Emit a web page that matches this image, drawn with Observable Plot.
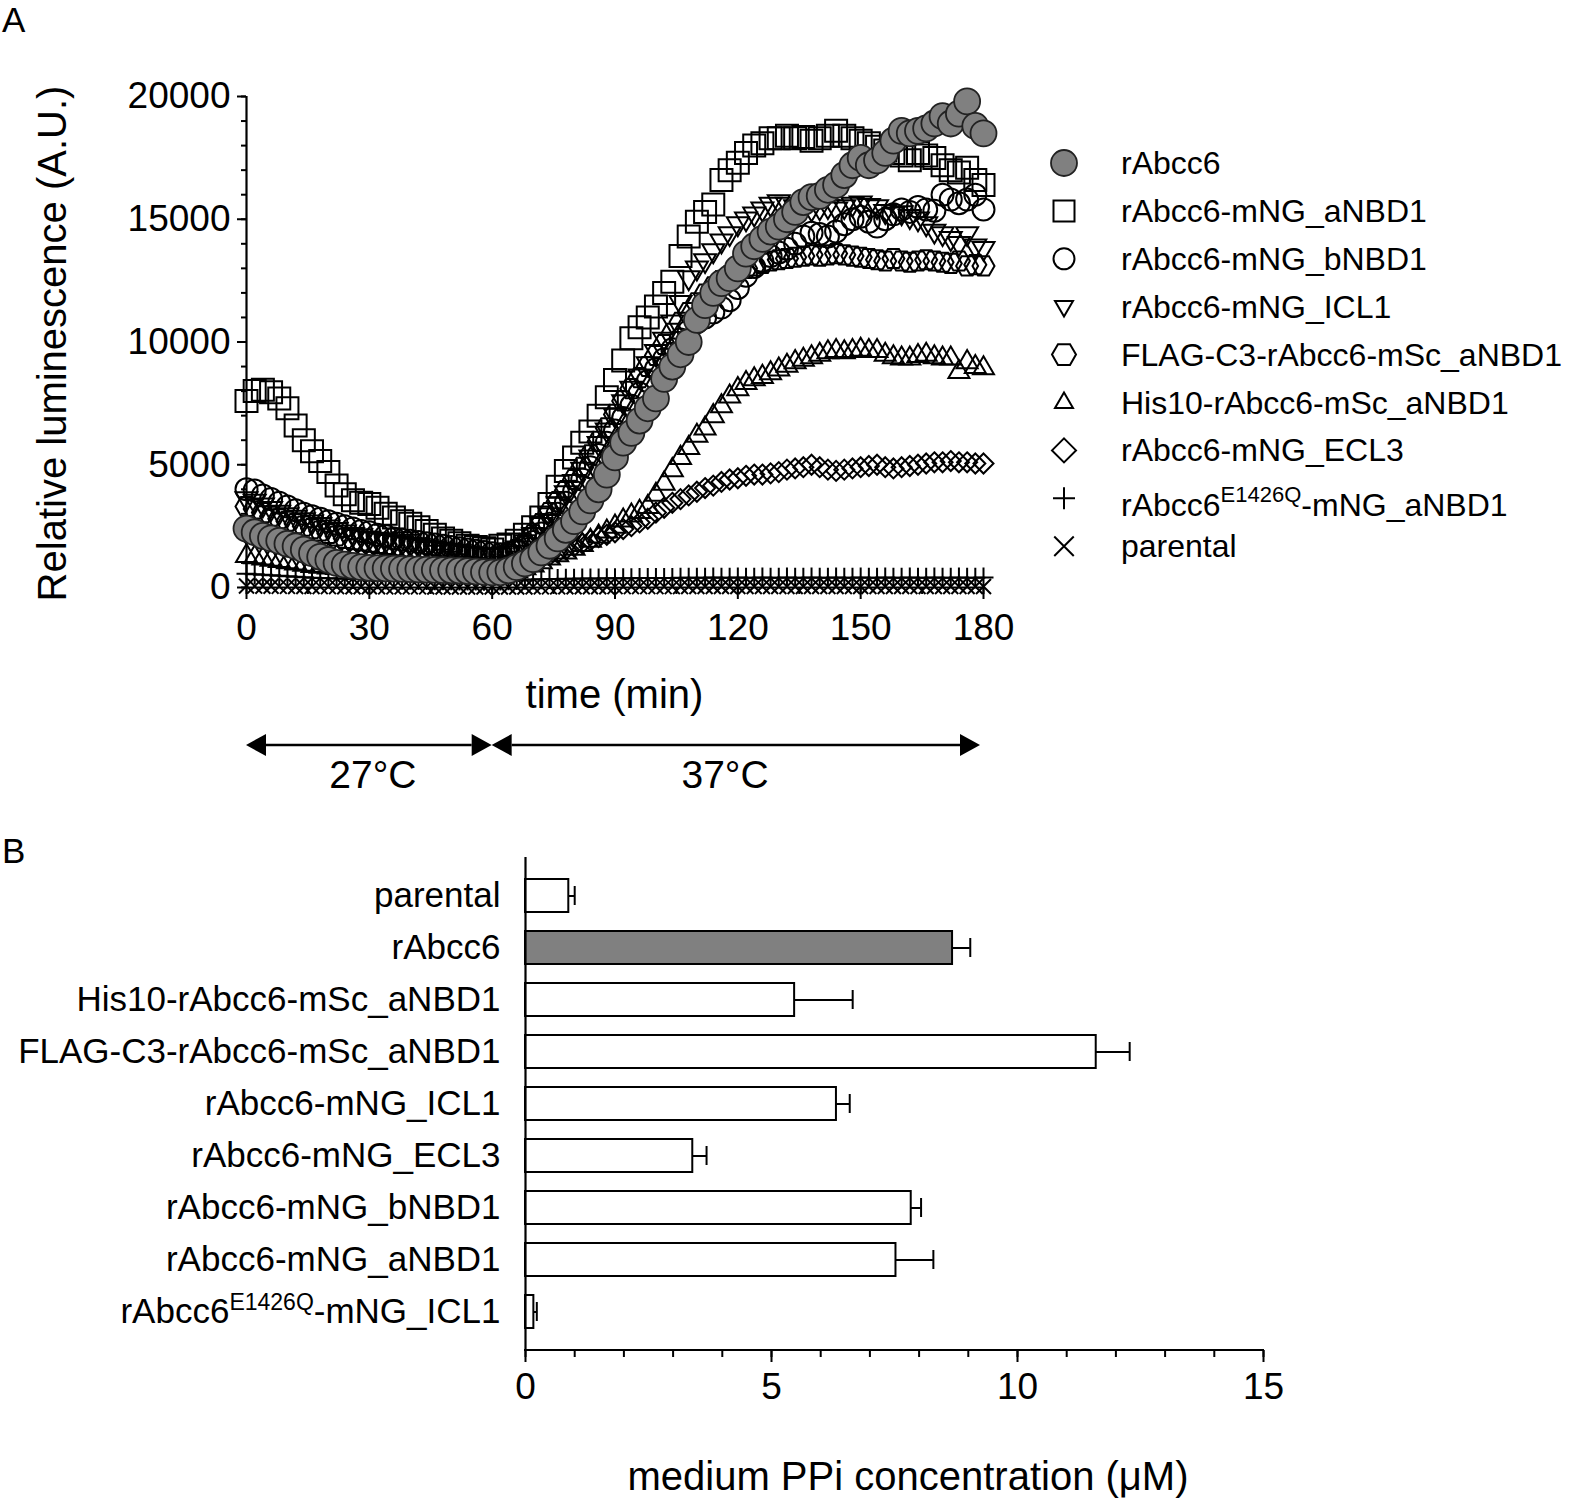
<!DOCTYPE html>
<html><head><meta charset="utf-8">
<script src="https://cdn.jsdelivr.net/npm/d3@7"></script>
<script src="https://cdn.jsdelivr.net/npm/@observablehq/plot@0.6"></script>
<style>
body{margin:0;background:#fff;}
#wrap{position:relative;width:1577px;height:1500px;background:#fff;}
#wrap svg{position:absolute;left:0;}
</style></head><body><div id="wrap"></div>
<script>
const FONT = "Liberation Sans, Arial, Helvetica, sans-serif";

// ---------- Panel A data ----------
const time = [0,2,4,6,8,10,12,14,16,18,
20,22,24,26,28,30,32,34,36,38,
40,42,44,46,48,50,52,54,56,58,
60,62,64,66,68,70,72,74,76,78,
80,82,84,86,88,90,92,94,96,98,
100,102,104,106,108,110,112,114,116,118,
120,122,124,126,128,130,132,134,136,138,
140,142,144,146,148,150,152,154,156,158,
160,162,164,166,168,170,172,174,176,178,
180];

const rAbcc6 = [2400,2250,2100,2000,1900,1780,1680,1540,1400,1250,
1120,1000,930,880,830,800,790,780,770,760,
750,740,730,720,710,700,690,670,650,630,
610,620,700,830,980,1150,1430,1700,2000,2350,
2700,3100,3550,4000,4600,5300,5900,6300,6800,7300,
7700,8500,9000,9500,10000,10900,11500,12000,12400,12600,
13000,13600,13900,14200,14500,14700,15000,15300,15700,15900,
15950,16200,16400,16800,17200,17500,17200,17400,17700,18200,
18600,18500,18600,18700,18900,19200,18900,19300,19800,18800,
18500];

const mNG_aNBD1 = [7600,8000,8050,7950,7700,7300,6600,6000,5550,5150,
4700,4150,3800,3550,3450,3400,3250,3000,2850,2700,
2600,2450,2300,2150,2000,1900,1800,1700,1650,1600,
1550,1700,1750,1900,2150,2450,2850,3400,4100,4750,
5300,5900,6350,7000,7750,8450,9250,10150,10600,11000,
11450,12000,12450,13500,14300,14900,15300,15600,16600,17000,
17300,17700,18000,18100,18300,18300,18400,18300,18350,18200,
18300,18400,18600,18400,18300,18200,18100,17950,17800,17700,
17600,17400,17700,17600,17500,17200,17000,16900,17100,16600,
16400];

const mNG_bNBD1 = [4000,3950,3750,3600,3450,3300,3150,3000,2900,2800,
2700,2600,2500,2400,2300,2250,2150,2100,2000,1950,
1900,1850,1800,1750,1700,1650,1600,1550,1500,1450,
1400,1350,1400,1500,1650,1850,2200,2600,3000,3450,
3900,4400,4900,5400,5900,6400,6900,7400,7900,8400,
8900,9300,9700,10100,10450,10800,11000,11200,11400,11700,
12200,12700,13050,13300,13500,13650,13800,14000,14300,14450,
14400,14300,14500,14800,15000,15100,14900,14700,15000,15200,
15400,15300,15500,15400,15350,16000,15800,15650,15800,16000,
15400];

const mNG_ICL1 = [3600,3500,3350,3200,3050,2950,2850,2750,2650,2550,
2450,2350,2250,2150,2100,2000,1950,1900,1850,1800,
1750,1700,1650,1600,1550,1500,1450,1400,1350,1300,
1300,1300,1400,1600,1850,2150,2550,2950,3400,3850,
4300,4800,5300,5850,6400,7000,7550,8100,8600,9100,
9600,10100,10800,11600,12600,13000,13300,13700,14100,14400,
14800,15000,15200,15400,15600,15700,15600,15500,15500,15400,
15450,15500,15400,15500,15600,15650,15550,15500,15300,15200,
15250,15100,15000,14800,14500,14400,14200,14000,14400,13900,
13800];

const flagC3_aNBD1 = [3300,3200,3050,2900,2800,2700,2600,2500,2400,2300,
2200,2100,2000,1950,1900,1850,1800,1750,1700,1650,
1600,1550,1500,1450,1400,1350,1300,1250,1250,1200,
1200,1250,1350,1550,1800,2150,2600,3050,3500,3950,
4400,4900,5400,5950,6500,7050,7600,8100,8550,9000,
9450,9900,10350,10800,11200,11600,11950,12250,12500,12700,
12850,13000,13100,13200,13300,13350,13400,13450,13500,13550,
13500,13550,13600,13550,13500,13450,13400,13350,13300,13400,
13300,13250,13300,13350,13300,13250,13200,13300,13100,13150,
13100];

const his10_aNBD1 = [1300,1250,1200,1150,1100,1050,1000,950,900,870,
840,810,780,750,720,700,680,660,640,620,
600,590,580,570,560,550,540,530,520,510,
500,520,580,680,800,920,1050,1200,1330,1450,
1600,1750,1920,2100,2300,2500,2750,2950,3100,3300,
3800,4250,4800,5300,5700,6200,6500,7000,7400,7800,
8100,8350,8500,8600,8750,8900,9050,9200,9300,9400,
9500,9600,9650,9600,9650,9700,9650,9650,9500,9400,
9350,9350,9450,9500,9400,9350,9350,8800,9200,9000,
8950];

const mNG_ECL3 = [2200,2100,2000,1900,1800,1700,1620,1550,1480,1420,
1360,1300,1250,1200,1150,1100,1070,1040,1010,980,
950,930,910,890,870,850,830,820,810,800,
800,800,850,920,1000,1080,1180,1300,1420,1550,
1680,1800,1920,2050,2150,2250,2380,2500,2650,2800,
3050,3250,3450,3600,3750,3900,4050,4150,4300,4400,
4450,4550,4600,4600,4650,4700,4800,4850,4900,5000,
4900,4800,4750,4800,4850,4900,4950,5000,4900,4850,
4900,4950,5000,5050,5100,5100,5150,5100,5100,5050,
5050];

const e1426Q_aNBD1 = [560,540,520,500,480,460,440,420,400,390,
380,370,360,350,350,340,340,330,330,320,
320,310,310,300,300,300,290,290,290,280,
280,290,300,310,320,330,340,350,350,360,
360,370,370,370,380,380,380,380,390,390,
390,390,390,400,400,400,400,410,400,400,
410,400,400,410,400,400,410,400,400,410,
400,400,410,400,400,410,400,400,410,400,
400,410,400,400,410,400,400,410,400,400,
410];

const parental = [60,55,50,50,45,45,40,40,40,35,
35,35,30,30,30,30,30,25,25,25,
25,25,25,20,20,20,20,20,20,20,
20,20,20,20,20,25,25,25,25,30,
30,30,30,30,30,35,35,35,35,35,
35,35,35,35,40,40,40,40,40,40,
40,40,40,40,40,40,40,40,40,40,
40,40,40,40,40,40,40,40,40,40,
40,40,40,40,40,40,40,40,40,40,
40];

const seriesNamesA = ["rAbcc6","rAbcc6-mNG_aNBD1","rAbcc6-mNG_bNBD1","rAbcc6-mNG_ICL1",
  "FLAG-C3-rAbcc6-mSc_aNBD1","His10-rAbcc6-mSc_aNBD1","rAbcc6-mNG_ECL3",
  "rAbcc6^E1426Q-mNG_aNBD1","parental"];

const yTicksA = [0,5000,10000,15000,20000];
const yMinorA = [0,1000,2000,3000,4000,5000,6000,7000,8000,9000,10000,11000,12000,13000,14000,15000,16000,17000,18000,19000,20000];
const xTicksA = [0,30,60,90,120,150,180];
const xMinorA = [0,15,30,45,60,75,90,105,120,135,150,165,180];
const tempPhases = [[0,60,"27°C",31],[60,180,"37°C",117]];

// ---------- Panel B data ----------
const barCategories = ["parental","rAbcc6","His10-rAbcc6-mSc_aNBD1","FLAG-C3-rAbcc6-mSc_aNBD1",
  "rAbcc6-mNG_ICL1","rAbcc6-mNG_ECL3","rAbcc6-mNG_bNBD1","rAbcc6-mNG_aNBD1","rAbcc6^E1426Q-mNG_ICL1"];
const barValues = [0.88, 8.68, 5.47, 11.6, 6.32, 3.40, 7.84, 7.53, 0.17];
const barErrors = [0.12, 0.36, 1.18, 0.68, 0.27, 0.28, 0.20, 0.76, 0.06];
const xTicksB = [0,5,10,15];
const xMinorB = [0,1,2,3,4,5,6,7,8,9,10,11,12,13,14,15];

// ---------- symbols ----------
const rad = s => Math.sqrt(s / Math.PI);
const poly = (c, pts) => { c.moveTo(pts[0][0], pts[0][1]); for (let i = 1; i < pts.length; i++) c.lineTo(pts[i][0], pts[i][1]); c.closePath(); };
const symSquare = {draw(c, s){ const r = rad(s); poly(c, [[-r,-r],[r,-r],[r,r],[-r,r]]); }};
const symTriDown = {draw(c, s){ const r = rad(s); poly(c, [[-r,-0.62*r],[r,-0.62*r],[0,1.1*r]]); }};
const symTriUp = {draw(c, s){ const r = rad(s); poly(c, [[0,-1.1*r],[r,0.62*r],[-r,0.62*r]]); }};
const symHex = {draw(c, s){ const r = rad(s); poly(c, [[-r,0],[-r/2,-0.87*r],[r/2,-0.87*r],[r,0],[r/2,0.87*r],[-r/2,0.87*r]]); }};
const symDiamond = {draw(c, s){ const r = rad(s); poly(c, [[0,-r],[r,0],[0,r],[-r,0]]); }};
const symPlus = {draw(c, s){ const r = rad(s); c.moveTo(-r,0); c.lineTo(r,0); c.moveTo(0,-r); c.lineTo(0,r); }};
const symTimes = {draw(c, s){ const r = rad(s)*0.75; c.moveTo(-r,-r); c.lineTo(r,r); c.moveTo(r,-r); c.lineTo(-r,r); }};
const symCircle = d3.symbolCircle;

const GRAY = "#808080";
// style per series (same order as seriesNamesA)
const seriesStyle = [
  {values: rAbcc6, symbol: symCircle, r: 13, lr: 13, fill: GRAY, stroke: "#222", sw: 1.8},
  {values: mNG_aNBD1, symbol: symSquare, r: 11, lr: 10.5, fill: "none", stroke: "#000", sw: 2},
  {values: mNG_bNBD1, symbol: symCircle, r: 11, lr: 10.5, fill: "none", stroke: "#000", sw: 2},
  {values: mNG_ICL1, symbol: symTriDown, r: 11, lr: 9, fill: "none", stroke: "#000", sw: 2},
  {values: flagC3_aNBD1, symbol: symHex, r: 11, lr: 12, fill: "none", stroke: "#000", sw: 2},
  {values: his10_aNBD1, symbol: symTriUp, r: 10.5, lr: 9, fill: "none", stroke: "#000", sw: 2},
  {values: mNG_ECL3, symbol: symDiamond, r: 10, lr: 12, fill: "none", stroke: "#000", sw: 2},
  {values: e1426Q_aNBD1, symbol: symPlus, r: 10, lr: 11, fill: "none", stroke: "#000", sw: 2},
  {values: parental, symbol: symTimes, r: 10, lr: 13, fill: "none", stroke: "#000", sw: 2}
];
const drawOrder = [8,7,6,5,4,3,2,1,0];

const dotMarks = drawOrder.map(k => {
  const st = seriesStyle[k];
  const data = time.map((t, i) => ({t, v: st.values[i]}));
  return Plot.dot(data, {x: "t", y: "v", symbol: st.symbol, r: st.r, fill: st.fill, stroke: st.stroke, strokeWidth: st.sw});
});

// ---------- Panel A plot ----------
const plotA = Plot.plot({
  width: 1577, height: 820,
  marginLeft: 246, marginRight: 1577 - 983, marginTop: 96, marginBottom: 820 - 587,
  x: {domain: [0, 180], label: null},
  y: {domain: [0, 20000], label: null},
  style: {fontFamily: FONT, fontSize: "37px", color: "#000", background: "transparent", overflow: "visible"},
  marks: [
    Plot.axisY({ticks: yMinorA, tickSize: 5, strokeWidth: 2, tickFormat: () => "", label: null}),
    Plot.axisY({ticks: yTicksA, tickSize: 9, strokeWidth: 2, tickPadding: 7, tickFormat: d => String(d), label: null}),
    Plot.axisX({ticks: xMinorA, tickSize: 7, strokeWidth: 2, tickFormat: () => "", label: null}),
    Plot.axisX({ticks: xTicksA, tickSize: 12, strokeWidth: 2, tickPadding: 14, tickFormat: d => String(d), label: null}),
    Plot.ruleX([0], {strokeWidth: 2.2}),
    Plot.ruleY([0], {strokeWidth: 2.2}),
    ...dotMarks
  ]
});
plotA.style.top = "0px";

// ---------- Panel B plot ----------
const barData = barCategories.map((name, i) => ({name, value: barValues[i], err: barErrors[i]}));
const plotB = Plot.plot({
  width: 1577, height: 680,
  marginLeft: 525, marginRight: 1577 - 1263, marginTop: 37, marginBottom: 150,
  x: {domain: [0, 15], label: null},
  y: {domain: barCategories, padding: 0.37, label: null},
  style: {fontFamily: FONT, fontSize: "35px", color: "#000", background: "transparent", overflow: "visible"},
  marks: [
    Plot.ruleY(barData, {y: "name", x1: "value", x2: d => d.value + d.err, strokeWidth: 2}),
    Plot.tickX(barData, {x: d => d.value + d.err, y: "name", strokeWidth: 2, insetTop: 7, insetBottom: 7}),
    Plot.barX(barData.filter(d => d.name !== "rAbcc6"), {x: "value", y: "name", fill: "#fff", stroke: "#000", strokeWidth: 2}),
    Plot.barX(barData.filter(d => d.name === "rAbcc6"), {x: "value", y: "name", fill: GRAY, stroke: "#000", strokeWidth: 2}),
    Plot.ruleX([0], {strokeWidth: 2.2}),
    Plot.axisY({tickSize: 0, tickPadding: 25, label: null}),
    Plot.axisX({ticks: xMinorB, tickSize: 7, strokeWidth: 2, tickFormat: () => "", label: null}),
    Plot.axisX({ticks: xTicksB, tickSize: 12, strokeWidth: 2, tickPadding: 10, fontSize: 37, tickFormat: d => String(d), label: null})
  ]
});
plotB.style.top = "820px";

const wrap = document.getElementById("wrap");
wrap.appendChild(plotA);
wrap.appendChild(plotB);

// helper: superscript text
function writeSup(textEl, s, supSize, shift) {
  const [a, rest] = s.split("^");
  const m = rest.match(/^([A-Z0-9]+)(.*)$/);
  const t = d3.select(textEl);
  t.text(null);
  t.append("tspan").text(a);
  t.append("tspan").attr("font-size", supSize).attr("dy", -shift).text(m[1]);
  t.append("tspan").attr("dy", shift).text(m[2]);
}

// ---------- Panel A annotations ----------
const xsA = v => plotA.scale("x").apply(v);
const ysA = v => plotA.scale("y").apply(v);
const gA = d3.select(plotA).append("g").attr("font-family", FONT).attr("fill", "#000").attr("text-anchor", "start");
gA.append("text").attr("x", 2).attr("y", 32).attr("font-size", 35).text("A");
gA.append("text").attr("transform", `translate(52,${ysA(10000) + 2}) rotate(-90)`)
  .attr("text-anchor", "middle").attr("dy", "0.36em").attr("font-size", 40).text("Relative luminescence (A.U.)");
gA.append("text").attr("x", xsA(90)).attr("y", 694).attr("text-anchor", "middle").attr("dy", "0.36em")
  .attr("font-size", 40).text("time (min)");

// temperature arrows
const ay = 745, ah = 20, aw = 11;
tempPhases.forEach(([t0, t1, lab, tl]) => {
  const x0 = xsA(t0), x1 = xsA(t1) - (t1 === 180 ? 3 : 0);
  gA.append("line").attr("x1", x0 + ah).attr("x2", x1 - ah).attr("y1", ay).attr("y2", ay)
    .attr("stroke", "#000").attr("stroke-width", 2.5);
  gA.append("path").attr("d", `M${x0},${ay}L${x0 + ah},${ay - aw}L${x0 + ah},${ay + aw}Z`).attr("fill", "#000");
  gA.append("path").attr("d", `M${x1},${ay}L${x1 - ah},${ay - aw}L${x1 - ah},${ay + aw}Z`).attr("fill", "#000");
  gA.append("text").attr("x", xsA(tl)).attr("y", 774).attr("text-anchor", "middle").attr("dy", "0.36em")
    .attr("font-size", 39).text(lab);
});

// legend
const legX = 1064, legTX = 1121, legY0 = 163, legStep = 47.9;
seriesNamesA.forEach((name, i) => {
  const st = seriesStyle[i];
  const y = legY0 + i * legStep;
  gA.append("path").attr("transform", `translate(${legX},${y})`)
    .attr("d", d3.symbol(st.symbol, Math.PI * st.lr * st.lr)())
    .attr("fill", st.fill).attr("stroke", st.stroke).attr("stroke-width", st.sw);
  const t = gA.append("text").attr("x", legTX).attr("y", y + (name.includes("^") ? 18 : 11))
    .attr("text-anchor", "start").attr("font-size", 32);
  if (name.includes("^")) writeSup(t.node(), name, 22, 14);
  else t.text(name);
});

// ---------- Panel B annotations ----------
const xsB = v => plotB.scale("x").apply(v);
const gB = d3.select(plotB).append("g").attr("font-family", FONT).attr("fill", "#000").attr("text-anchor", "start");
gB.append("text").attr("x", 2).attr("y", 43).attr("font-size", 35).text("B");
const axisYB = 680 - 150;
gB.append("line").attr("x1", xsB(0) - 1).attr("x2", xsB(15) + 1).attr("y1", axisYB).attr("y2", axisYB)
  .attr("stroke", "#000").attr("stroke-width", 2.2);
gB.append("text").attr("x", 908).attr("y", 656).attr("text-anchor", "middle").attr("dy", "0.36em")
  .attr("font-size", 40).text("medium PPi concentration (μM)");

d3.select(plotB).selectAll("text").each(function() {
  if (this.textContent.includes("^")) writeSup(this, this.textContent, 23, 13);
});
</script></body></html>
